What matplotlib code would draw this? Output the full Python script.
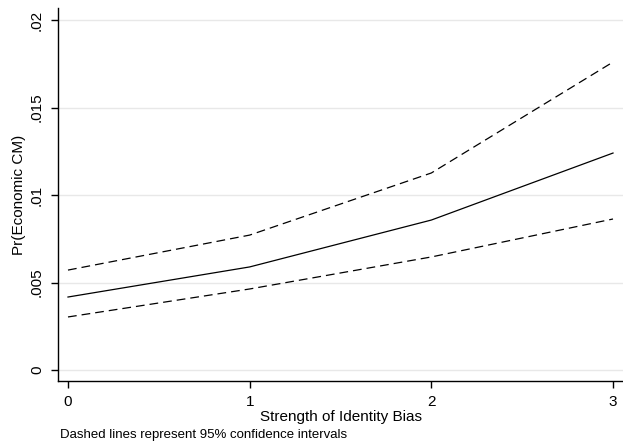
import numpy as np
import matplotlib.pyplot as plt

plt.rcParams['font.family'] = ['Liberation Sans', 'DejaVu Sans']

bias = [0, 1, 2, 3]
pr_mean = [0.00417, 0.00589, 0.00857, 0.01240]
pr_upper = [0.00571, 0.00771, 0.01126, 0.01760]
pr_lower = [0.00303, 0.00463, 0.00646, 0.00863]
yticks = [0, 0.005, 0.01, 0.015, 0.02]
ytick_labels = ['0', '.005', '.01', '.015', '.02']

fig = plt.figure(figsize=(6.23, 4.45), dpi=100)
ax = fig.add_axes([58 / 623, 1 - 381 / 445, 565 / 623, 373 / 445])

ax.plot(bias, pr_mean, color='black', lw=0.9)
ax.plot(bias, pr_upper, color='black', lw=0.9, dashes=(7, 4))
ax.plot(bias, pr_lower, color='black', lw=0.9, dashes=(7, 4))

ax.set_xlim(-0.055, 3.055)
ax.set_ylim(-0.00063, 0.02069)
ax.set_xticks(bias)
ax.set_yticks(yticks)
ax.set_yticklabels(ytick_labels, rotation=90, va='center')
ax.grid(axis='y', color='#e8e8e8', lw=1)
ax.set_axisbelow(True)

for s in ['top', 'right']:
    ax.spines[s].set_visible(False)
ax.spines['left'].set_linewidth(1)
ax.spines['bottom'].set_linewidth(1)
ax.tick_params(direction='out', length=5, width=1, labelsize=11, pad=5)
ax.tick_params(axis='x', pad=5)

ax.set_xlabel('Strength of Identity Bias', fontsize=11, labelpad=1)
ax.set_ylabel('Pr(Economic CM)', fontsize=11, labelpad=3)
fig.text(60 / 623, 1 - 435 / 445, 'Dashed lines represent 95% confidence intervals',
         fontsize=9.5, va='center', ha='left')

fig.savefig('out.png', dpi=100, facecolor='white')
